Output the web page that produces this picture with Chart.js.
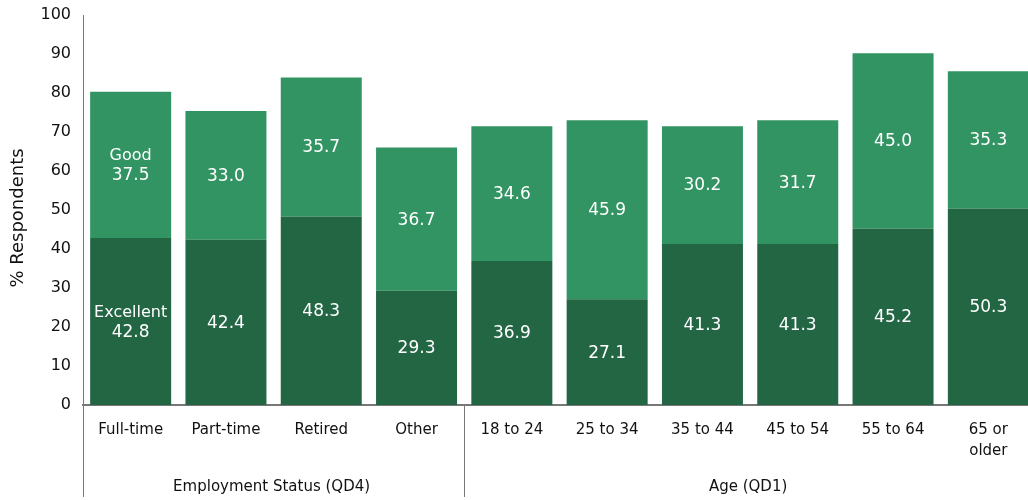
<!DOCTYPE html>
<html>
<head>
<meta charset="utf-8">
<script src="https://cdn.jsdelivr.net/npm/chart.js@4.4.1/dist/chart.umd.min.js"></script>
<style>
  html, body { margin: 0; padding: 0; overflow: hidden; background: #ffffff; }
  #wrap { width: 1036px; height: 500px; }
</style>
</head>
<body>
<div id="wrap"><canvas id="c" width="1036" height="500"></canvas></div>
<script>
const categories = ['Full-time', 'Part-time', 'Retired', 'Other', '18 to 24', '25 to 34', '35 to 44', '45 to 54', '55 to 64', ['65 or', 'older']];
const excellent = [42.8, 42.4, 48.3, 29.3, 36.9, 27.1, 41.3, 41.3, 45.2, 50.3];
const good = [37.5, 33.0, 35.7, 36.7, 34.6, 45.9, 30.2, 31.7, 45.0, 35.3];
const groups = [
  { label: 'Employment Status (QD4)', start: 0, end: 3 },
  { label: 'Age (QD1)', start: 4, end: 9 }
];
const seriesNames = ['Excellent', 'Good'];
const yTicks = [0, 10, 20, 30, 40, 50, 60, 70, 80, 90, 100];
const yTitle = '% Respondents';

const FONT = "'DejaVu Sans', Verdana, sans-serif";
const AXIS_COLOR = '#777777';

const barLabels = {
  id: 'barLabels',
  afterDatasetsDraw(chart) {
    const ctx = chart.ctx;
    ctx.save();
    ctx.fillStyle = '#ffffff';
    ctx.textAlign = 'center';
    ctx.textBaseline = 'middle';
    chart.data.datasets.forEach((ds, di) => {
      const meta = chart.getDatasetMeta(di);
      meta.data.forEach((bar, i) => {
        const v = ds.data[i];
        const cy = (bar.y + bar.base) / 2;
        const lines = i === 0 ? [ds.label, v.toFixed(1)] : [v.toFixed(1)];
        const lh = 20;
        const y0 = cy - (lines.length - 1) * lh / 2 + 1;
        lines.forEach((t, k) => {
          const isWord = lines.length > 1 && k === 0;
          ctx.font = (isWord ? '16px ' : '17px ') + FONT;
          ctx.fillText(t, bar.x, y0 + k * lh);
        });
      });
    });
    ctx.restore();
  }
};

const groupAxis = {
  id: 'groupAxis',
  afterDraw(chart) {
    const ctx = chart.ctx;
    const xs = chart.scales.x;
    const area = chart.chartArea;
    const half = (xs.getPixelForValue(1) - xs.getPixelForValue(0)) / 2;
    const bottom = chart.height - 3;
    ctx.save();
    ctx.strokeStyle = AXIS_COLOR;
    ctx.lineWidth = 1;
    ctx.beginPath();
    ctx.moveTo(Math.round(area.left) + 0.5, area.bottom);
    ctx.lineTo(Math.round(area.left) + 0.5, bottom);
    ctx.stroke();
    ctx.fillStyle = '#111111';
    ctx.font = '15px ' + FONT;
    ctx.textAlign = 'center';
    ctx.textBaseline = 'middle';
    groups.forEach((g, gi) => {
      const l = xs.getPixelForValue(g.start) - half;
      const r = xs.getPixelForValue(g.end) + half;
      if (gi > 0) {
        ctx.beginPath();
        ctx.moveTo(Math.round(l) + 0.5, area.bottom);
        ctx.lineTo(Math.round(l) + 0.5, bottom);
        ctx.stroke();
      }
      ctx.fillText(g.label, (l + r) / 2 - 2, 487);
    });
    // y axis title
    ctx.save();
    ctx.translate(18, (area.top + area.bottom) / 2 + 8);
    ctx.rotate(-Math.PI / 2);
    ctx.font = '18px ' + FONT;
    ctx.fillText(yTitle, 0, 0);
    ctx.restore();
    ctx.restore();
  }
};

new Chart(document.getElementById('c'), {
  type: 'bar',
  data: {
    labels: categories,
    datasets: [
      { label: seriesNames[0], data: excellent, backgroundColor: '#236644', borderWidth: 0 },
      { label: seriesNames[1], data: good, backgroundColor: '#329463', borderWidth: 0 }
    ]
  },
  options: {
    responsive: false,
    animation: false,
    devicePixelRatio: 1,
    layout: { padding: { top: 15, right: 0, bottom: 0, left: 0 } },
    datasets: { bar: { barPercentage: 0.85, categoryPercentage: 1.0 } },
    plugins: { legend: { display: false }, tooltip: { enabled: false }, title: { display: false } },
    scales: {
      x: {
        stacked: true,
        grid: { display: false, drawTicks: false },
        border: { display: true, color: AXIS_COLOR, width: 2 },
        ticks: { color: '#111111', font: { family: FONT, size: 15, lineHeight: 1.4 }, padding: 15, maxRotation: 0, autoSkip: false },
        afterFit(scale) { scale.height = 95; scale.paddingLeft = 0; scale.paddingRight = 0; }
      },
      y: {
        stacked: true,
        min: 0,
        max: 100,
        afterBuildTicks(scale) { scale.ticks = yTicks.map(v => ({ value: v })); },
        grid: { display: false, drawTicks: false },
        border: { display: true, color: AXIS_COLOR, width: 1 },
        ticks: { color: '#111111', font: { family: FONT, size: 16 }, padding: 12 },
        title: { display: false },
        afterFit(scale) { scale.width = 83; scale.paddingTop = 0; scale.paddingBottom = 0; }
      }
    }
  },
  plugins: [barLabels, groupAxis]
});
</script>
</body>
</html>
